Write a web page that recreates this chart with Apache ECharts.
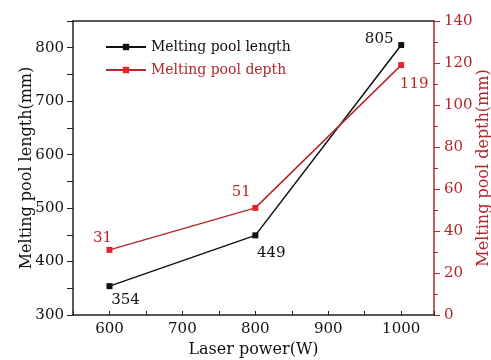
<!DOCTYPE html>
<html>
<head>
<meta charset="utf-8">
<script src="https://cdn.jsdelivr.net/npm/echarts@6/dist/echarts.min.js"></script>
<style>
  html, body { margin: 0; padding: 0; background: #fff; }
  #main { width: 491px; height: 360px; }
</style>
</head>
<body>
<div id="main"></div>
<script>
  // laser power (W)
  var power = [600, 800, 1000]
  // melting pool length (mm), left axis
  var poolLength = [354, 449, 805]
  // melting pool depth (mm), right axis
  var poolDepth = [31, 51, 119]

  var FONT = 'DejaVu Serif'
  var RED = '#b3282d'

  // where each value label sits relative to its point
  var lengthLabelOffset = [[16, 14], [16, 18], [-22, -6]]
  var depthLabelOffset = [[-7, -12], [-14, -16], [13, 19]]

  function points (ys, offsets, color) {
    return ys.map(function (y, i) {
      return {
        value: [power[i], y],
        label: {
          show: true,
          position: 'inside',
          offset: offsets[i],
          formatter: String(y),
          color: color,
          fontFamily: FONT,
          fontSize: 15
        }
      }
    })
  }

  var hundreds = function (v) { return v % 100 === 0 ? String(v) : '' }

  var myChart = echarts.init(document.getElementById('main'))
  myChart.setOption({
    animation: false,
    grid: { left: 73, right: 57, top: 21, bottom: 45, outerBoundsMode: 'none' },
    legend: {
      orient: 'vertical',
      left: 105,
      top: 40,
      padding: 0,
      itemWidth: 40,
      itemHeight: 8,
      itemGap: 9,
      textStyle: { fontFamily: FONT, fontSize: 14 },
      data: [
        { name: 'Melting pool length', textStyle: { color: '#111' } },
        { name: 'Melting pool depth', textStyle: { color: RED } }
      ]
    },
    xAxis: [{
      type: 'value',
      min: 550,
      max: 1045,
      interval: 50,
      name: 'Laser power(W)',
      nameLocation: 'middle',
      nameGap: 27,
      nameTextStyle: { fontFamily: FONT, fontSize: 16, color: '#111' },
      axisLine: { lineStyle: { color: '#222', width: 1.5 } },
      axisTick: { inside: true, length: 4, lineStyle: { color: '#222' } },
      axisLabel: { formatter: hundreds, fontFamily: FONT, fontSize: 15, color: '#111', margin: 7 },
      splitLine: { show: false }
    }, {
      type: 'value',
      position: 'top',
      min: 550,
      max: 1045,
      axisLine: { show: true, lineStyle: { color: '#222', width: 1.5 } },
      axisTick: { show: false },
      axisLabel: { show: false },
      splitLine: { show: false }
    }],
    yAxis: [{
      type: 'value',
      min: 300,
      max: 850,
      interval: 50,
      name: 'Melting pool length(mm)',
      nameLocation: 'middle',
      nameRotate: 90,
      nameGap: 38,
      nameMoveOverlap: false,
      nameTextStyle: { fontFamily: FONT, fontSize: 16, color: '#111' },
      axisLine: { show: true, lineStyle: { color: '#222', width: 1.5 } },
      axisTick: { length: 6, lineStyle: { color: '#222' } },
      axisLabel: { formatter: hundreds, fontFamily: FONT, fontSize: 15, color: '#111', margin: 9 },
      splitLine: { show: false }
    }, {
      type: 'value',
      position: 'right',
      min: 0,
      max: 140,
      interval: 20,
      name: 'Melting pool depth(mm)',
      nameLocation: 'middle',
      nameRotate: 90,
      nameGap: 42,
      nameMoveOverlap: false,
      nameTextStyle: { fontFamily: FONT, fontSize: 16, color: RED },
      axisLine: { show: true, lineStyle: { color: RED, width: 1.5 } },
      axisTick: { length: 6, lineStyle: { color: RED } },
      minorTick: { show: true, splitNumber: 2, length: 4, lineStyle: { color: RED } },
      axisLabel: { fontFamily: FONT, fontSize: 15, color: RED, margin: 10 },
      splitLine: { show: false }
    }],
    series: [{
      name: 'Melting pool length',
      type: 'line',
      yAxisIndex: 0,
      symbol: 'rect',
      symbolSize: 6,
      lineStyle: { color: '#111', width: 1.5 },
      itemStyle: { color: '#111' },
      data: points(poolLength, lengthLabelOffset, '#111')
    }, {
      name: 'Melting pool depth',
      type: 'line',
      yAxisIndex: 1,
      symbol: 'rect',
      symbolSize: 6,
      lineStyle: { color: RED, width: 1.5 },
      itemStyle: { color: '#e0262b' },
      data: points(poolDepth, depthLabelOffset, RED)
    }]
  })
</script>
</body>
</html>
